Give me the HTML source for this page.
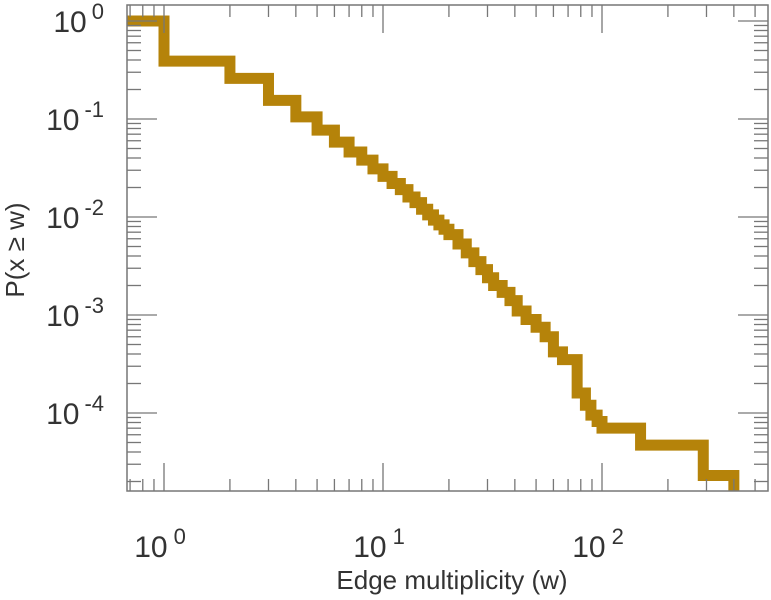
<!DOCTYPE html>
<html><head><meta charset="utf-8"><style>
html,body{margin:0;padding:0;background:#fff;}
svg{display:block;font-family:"Liberation Sans",sans-serif;}
</style></head><body>
<svg id="chart" width="771" height="600" viewBox="0 0 771 600" xmlns="http://www.w3.org/2000/svg">
<g id="marks"></g>
<g id="axes"></g>
<text x="452" y="589" text-anchor="middle" font-size="26" fill="#333">Edge multiplicity (w)</text>
<text transform="translate(24,250) rotate(-90)" text-anchor="middle" font-size="26" fill="#333">P(x ≥ w)</text>
</svg>
<script>
// segment end w and probability on that segment
const stepW = [1,2,3,4,5,6,7,8,9,10,11,12,13,14,15,16,17,18,19,20,22,24,26,28,30,32,35,38,41,45,50,55,60,66,77,84,89,95,100,150,290,400];
const stepP = [1,0.39,0.26,0.155,0.105,0.077,0.058,0.046,0.038,0.031,0.026,0.022,0.019,0.016,0.014,0.012,0.0105,0.0093,0.0083,0.0075,0.0066,0.0053,0.0043,0.0035,0.0029,0.0024,0.002,0.0017,0.0014,0.0011,0.0009,0.00075,0.0006,0.00042,0.00035,0.00016,0.00012,0.000095,0.000082,0.00007,0.000047,0.000023];
const xTickExps = [0,1,2];
const yTickExps = [0,-1,-2,-3,-4];

const L=127,R=768,T=5,B=491;
const x0=164, xDec=219, y0=21, yDec=98;
const xs=v=>x0+Math.log10(v)*xDec;
const ys=v=>y0-Math.log10(v)*yDec;
const NS="http://www.w3.org/2000/svg";
function mk(tag,attrs,parent){const e=document.createElementNS(NS,tag);for(const k in attrs)e.setAttribute(k,attrs[k]);parent.appendChild(e);return e;}
const marks=document.getElementById('marks'), axes=document.getElementById('axes');

let d="M"+L+","+ys(stepP[0]);
for(let i=0;i<stepW.length;i++){
  d+=" L"+xs(stepW[i])+","+ys(stepP[i]);
  const nextP = i+1<stepP.length?stepP[i+1]:null;
  if(nextP!==null) d+=" L"+xs(stepW[i])+","+ys(nextP);
  else d+=" L"+xs(stepW[i])+","+B;
}
const line=mk('path',{d:d,fill:'none',stroke:'#b5830a','stroke-width':11,'stroke-linejoin':'miter'},marks);



const frame=mk('rect',{x:L,y:T,width:R-L,height:B-T,fill:'none',stroke:'#777','stroke-width':1.5},axes);



for(let e=-1;e<=2;e++){
  for(let m=1;m<=9;m++){
    const v=m*Math.pow(10,e); const px=xs(v);
    if(px<L||px>R)continue;
    const len=m===1?28:12;
    mk('line',{x1:px,y1:B,x2:px,y2:B-len,stroke:'#777','stroke-width':1.3},axes);
    mk('line',{x1:px,y1:T,x2:px,y2:T+len,stroke:'#777','stroke-width':1.3},axes);
  }
}
for(let e=-5;e<=0;e++){
  for(let m=1;m<=9;m++){
    const v=m*Math.pow(10,e); const py=ys(v);
    if(py<T||py>B)continue;
    const len=m===1?30:14;
    mk('line',{x1:L,y1:py,x2:L+len,y2:py,stroke:'#777','stroke-width':1.3},axes);
    mk('line',{x1:R,y1:py,x2:R-len,y2:py,stroke:'#777','stroke-width':1.3},axes);
  }
}
xTickExps.forEach(e=>{
  const t=mk('text',{x:xs(Math.pow(10,e))-4,y:557,'text-anchor':'middle','font-size':30,fill:'#333'},axes);
  
  
  t.textContent='10';
  const s=mk('tspan',{dx:6,dy:-13,'font-size':22},t); s.textContent=String(e);
});
yTickExps.forEach(e=>{
  const t=mk('text',{x:104,y:ys(Math.pow(10,e))+11,'text-anchor':'end','font-size':30,fill:'#333'},axes);
  
  
  t.textContent='10';
  const s=mk('tspan',{dx:5,dy:-13,'font-size':22},t); s.textContent=String(e);
});
</script>
</body></html>
